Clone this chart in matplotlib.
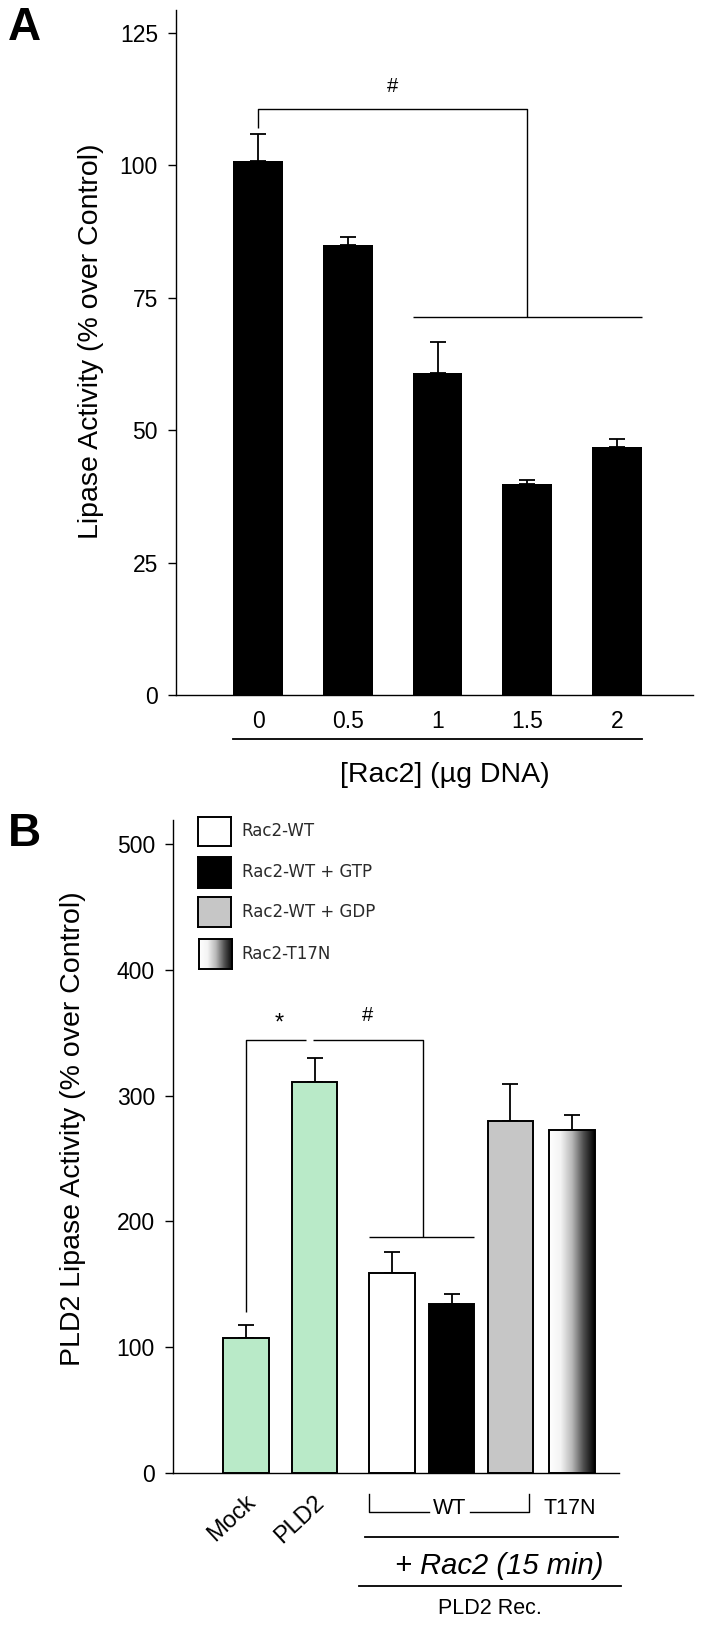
import numpy as np
import matplotlib
matplotlib.use('Agg')
import matplotlib.pyplot as plt
from matplotlib.colors import LinearSegmentedColormap

plt.rcParams['font.family'] = ['Liberation Sans', 'DejaVu Sans']

# panel A data
rac2_dna = ['0', '0.5', '1', '1.5', '2']
lipase_a = [100.8, 84.9, 60.7, 39.8, 46.8]
lipase_a_err = [5.1, 1.5, 5.9, 0.8, 1.6]
ticks_a = [0, 25, 50, 75, 100, 125]

# panel B data
groups_b = ['Mock', 'PLD2', 'Rac2-WT', 'Rac2-WT + GTP', 'Rac2-WT + GDP', 'Rac2-T17N']
lipase_b = [107.4, 311.0, 158.6, 134.5, 280.0, 272.6]
lipase_b_err = [10.0, 19.0, 16.7, 7.5, 29.0, 11.8]
ticks_b = [0, 100, 200, 300, 400, 500]
legend_labels = groups_b[2:]

W, H = 703, 1625
fig = plt.figure(figsize=(W / 100, H / 100), dpi=100)

GREEN = '#b9eac8'
GREY = '#c6c6c6'
grad = LinearSegmentedColormap.from_list(
    't17n', ['#ffffff', '#f4f4f4', '#b8b8b8', '#505050', '#000000'])
grad_img = np.linspace(0, 1, 256).reshape(1, -1)


def fx(px):
    return px / W


def fy(py):
    return 1 - py / H


def axes_px(x0, x1, y_top, y_bot):
    return fig.add_axes([fx(x0), fy(y_bot), (x1 - x0) / W, (y_bot - y_top) / H])


def style(ax):
    for s in ('top', 'right'):
        ax.spines[s].set_visible(False)
    for s in ('left', 'bottom'):
        ax.spines[s].set_linewidth(1.0)


def line(ax, xs, ys, **kw):
    ax.plot(xs, ys, color='black', lw=1.0, solid_capstyle='butt',
            clip_on=False, **kw)


# ---------------- panel A ----------------
axA = axes_px(176, 693, 10, 695)
style(axA)
xa = np.arange(len(rac2_dna))
wa = 0.557
axA.bar(xa, lipase_a, width=wa, color='black', zorder=3)
axA.errorbar(xa, lipase_a, yerr=[np.zeros(len(xa)), lipase_a_err], fmt='none',
             ecolor='black', elinewidth=1.3, capsize=5.5, capthick=1.3, zorder=2)
axA.set_xlim(-0.914, 4.847)
axA.set_ylim(0, 129.3)
axA.set_yticks(ticks_a)
axA.tick_params(axis='y', direction='out', length=6, width=1.0, labelsize=16.5, pad=7)
axA.set_xticks(xa, rac2_dna)
axA.tick_params(axis='x', length=0, labelsize=16.5, pad=11)

# underline below categories
ta = axA.get_xaxis_transform()
axA.plot([xa[0] - wa / 2, xa[-1] + wa / 2], [-0.0642, -0.0642], color='black',
         lw=1.3, transform=ta, clip_on=False)

# significance bracket
line(axA, [0, 0, 3, 3], [107, 110.6, 110.6, 71.3])
line(axA, [xa[2] - wa / 2, xa[4] + wa / 2], [71.3, 71.3])
axA.text(1.5, 114.8, '#', ha='center', va='center', fontsize=14.5)

fig.text(fx(8), fy(28), 'A', fontsize=33, fontweight='bold', va='center', ha='left')
fig.text(fx(91), fy(341), 'Lipase Activity (% over Control)', rotation=90,
         ha='center', va='center', fontsize=20.5)
fig.text(fx(445), fy(775), '[Rac2] (\u00b5g DNA)', ha='center', va='center',
         fontsize=20.5)

# ---------------- panel B ----------------
axB = axes_px(173, 619, 820, 1473)
style(axB)
xb = np.array([0, 1, 2.13, 3.0, 3.86, 4.76])
wb = 0.664
colors_b = [GREEN, GREEN, 'white', 'black', GREY, 'none']
axB.bar(xb, lipase_b, width=wb, color=colors_b, edgecolor='black',
        linewidth=1.4, zorder=3)
axB.imshow(grad_img, cmap=grad, aspect='auto', zorder=2.5,
           extent=(xb[5] - wb / 2, xb[5] + wb / 2, 0, lipase_b[5]))
axB.errorbar(xb, lipase_b, yerr=[np.zeros(len(xb)), lipase_b_err], fmt='none',
             ecolor='black', elinewidth=1.3, capsize=5.5, capthick=1.3, zorder=2)
axB.set_xlim(-1.066, 5.445)
axB.set_ylim(0, 519)
axB.set_aspect('auto')
axB.set_yticks(ticks_b)
axB.tick_params(axis='y', direction='out', length=6, width=1.0, labelsize=16.5, pad=7)
axB.set_xticks([])

tb = axB.get_xaxis_transform()
for x, lab in zip(xb[:2], groups_b[:2]):
    axB.text(x + 0.1, -0.04, lab, rotation=43, rotation_mode='anchor',
             ha='right', va='center', fontsize=17, transform=tb)

# WT bracket
wt_l, wt_r = xb[2] - wb / 2, xb[4] + wb / 2 - 0.06
wt_c = (wt_l + wt_r) / 2
yb_top, yb_bot = -0.0322, -0.0597
axB.plot([wt_l, wt_l, wt_c - 0.3], [yb_top, yb_bot, yb_bot], color='black', lw=1.0,
         transform=tb, clip_on=False)
axB.plot([wt_c + 0.3, wt_r, wt_r], [yb_bot, yb_bot, yb_top], color='black', lw=1.0,
         transform=tb, clip_on=False)
axB.text(wt_c, -0.0536, 'WT', ha='center', va='center', fontsize=15.5, transform=tb)
axB.text(xb[5] - 0.03, -0.0536, 'T17N', ha='center', va='center', fontsize=15.5,
         transform=tb)
axB.plot([1.737, 5.43], [-0.0975, -0.0975], color='black', lw=1.3,
         transform=tb, clip_on=False)
axB.text(3.70, -0.1424, '+ Rac2 (15 min)', ha='center', va='center', fontsize=21,
         style='italic', transform=tb)
axB.plot([1.65, 5.47], [-0.1726, -0.1726], color='black', lw=1.3,
         transform=tb, clip_on=False)
axB.text(3.56, -0.207, 'PLD2 Rec.', ha='center', va='center', fontsize=15.5,
         transform=tb)

# significance brackets
line(axB, [0, 0, 0.88], [128, 344.5, 344.5])
line(axB, [0.975, 2.58, 2.58], [344.5, 344.5, 187.6])
line(axB, [xb[2] - wb / 2, xb[3] + wb / 2], [187.6, 187.6])
axB.text(0.48, 357, '*', ha='center', va='center', fontsize=17)
axB.text(1.78, 364, '#', ha='center', va='center', fontsize=14.5)

# legend boxes
leg_boxes = [(197.6, 230.7, 817, 846), (197.6, 230.7, 856.5, 887.6),
             (197.6, 230.7, 897, 927), (198.6, 232, 939, 969)]
leg_colors = ['white', 'black', GREY, None]
for (x0, x1, y0, y1), c, lab in zip(leg_boxes, leg_colors, legend_labels):
    lax = axes_px(x0, x1, y0, y1)
    lax.set_xticks([])
    lax.set_yticks([])
    for s in lax.spines.values():
        s.set_linewidth(1.4)
    if c is None:
        lax.imshow(grad_img, cmap=grad, aspect='auto', extent=(0, 1, 0, 1))
    else:
        lax.set_facecolor(c)
    fig.text(fx(241.5), fy((y0 + y1) / 2), lab, ha='left', va='center',
             fontsize=12, family='DejaVu Sans', color='#2a2a2a')

fig.text(fx(8), fy(834), 'B', fontsize=33, fontweight='bold', va='center', ha='left')
fig.text(fx(73), fy(1129), 'PLD2 Lipase Activity (% over Control)', rotation=90,
         ha='center', va='center', fontsize=20.5)

fig.savefig('out.png', dpi=100)
